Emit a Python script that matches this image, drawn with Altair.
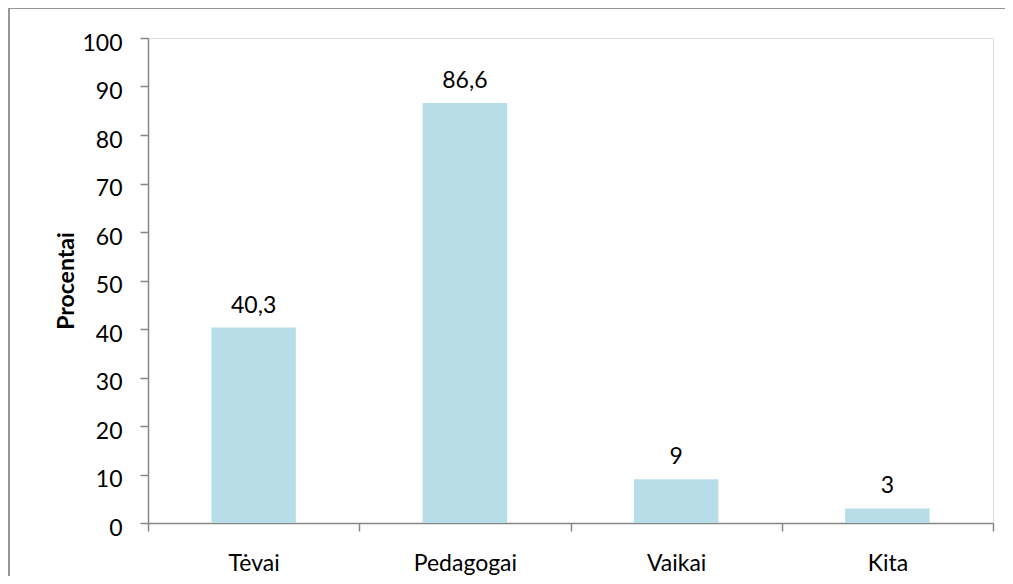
import altair as alt
import pandas as pd

categories = ["Tėvai", "Pedagogai", "Vaikai", "Kita"]
values = [40.3, 86.6, 9, 3]
labels = ["40,3", "86,6", "9", "3"]
y_ticks = [0, 10, 20, 30, 40, 50, 60, 70, 80, 90, 100]

df = pd.DataFrame({"cat": categories, "val": values, "lab": labels})

FONT = "Lato"
AX = "#868686"

x_enc = alt.X(
    "cat:N",
    sort=categories,
    scale=alt.Scale(paddingInner=0, paddingOuter=0),
    axis=alt.Axis(
        title=None,
        labelAngle=0,
        labelFont=FONT,
        labelFontSize=23,
        labelColor="#000000",
        labelBaseline="alphabetic",
        labelPadding=39,
        tickBand="extent",
        tickSize=8,
        tickColor=AX,
        domainColor=AX,
        tickWidth=1.5,
        domainWidth=1.5,
    ),
)

y_enc = alt.Y(
    "val:Q",
    scale=alt.Scale(domain=[0, 100], nice=False),
    axis=alt.Axis(
        title="Procentai",
        values=y_ticks,
        grid=False,
        labelFont=FONT,
        labelFontSize=23,
        labelColor="#000000",
        labelPadding=18,
        labelOffset=5,
        tickSize=8,
        tickColor=AX,
        domainColor=AX,
        tickWidth=1.5,
        domainWidth=1.5,
        titleFont=FONT,
        titleFontSize=23,
        titleFontWeight="bold",
        titleColor="#000000",
        titleX=-75,
        titleBaseline="alphabetic",
    ),
)

bars = alt.Chart(df).mark_bar(
    color="#B7DDE8", width=alt.RelativeBandSize(0.4)
).encode(x=x_enc, y=y_enc)

text = alt.Chart(df).mark_text(
    font=FONT, fontSize=23, color="#000000", baseline="alphabetic", dy=-15
).encode(x=alt.X("cat:N", sort=categories), y="val:Q", text="lab:N")

left_edge = alt.Chart(df).mark_rule(color="#969696", strokeWidth=2).encode(
    x=alt.value(-139), y=alt.value(-30), y2=alt.value(538)
)
top_edge = alt.Chart(df).mark_rule(color="#969696", strokeWidth=2).encode(
    x=alt.value(-140), x2=alt.value(857), y=alt.value(-30)
)

chart = alt.layer(bars, text, left_edge, top_edge).properties(
    width=845,
    height=485,
    autosize=alt.AutoSizeParams(type="none"),
    padding={"left": 140, "top": 30, "right": 12, "bottom": 53},
).configure_view(stroke=None).configure(background="white")

chart.save("out.html", embed_options={"renderer": "svg", "actions": False})
